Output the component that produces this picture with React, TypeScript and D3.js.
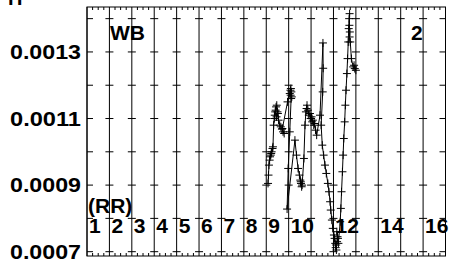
import React, { useEffect, useRef } from 'react';
import * as d3 from 'd3';

// bin position (RR class) and value of each sample
const xValues = [
  9.08, 9.10, 9.12, 9.15, 9.20, 9.17, 9.24, 9.28, 9.22, 9.30,
  9.33, 9.36, 9.40, 9.38, 9.44, 9.42, 9.47, 9.50, 9.46, 9.52, 9.55, 9.60, 9.65, 9.70, 9.75, 9.80, 9.72,
  9.95, 10.05, 10.08, 10.10, 10.12, 10.09, 10.14, 10.11,
  10.05, 9.98, 9.93,
  10.28, 10.35, 10.42, 10.48, 10.52, 10.55, 10.58, 10.54, 10.60,
  10.68, 10.73, 10.77, 10.82, 10.80, 10.86, 10.90, 10.95, 10.98, 11.02, 11.05, 11.08, 11.12, 11.15, 11.20, 11.25,
  11.40, 11.53, 11.54, 11.52, 11.45,
  11.50, 11.56, 11.62, 11.68, 11.75, 11.80, 11.85, 11.88, 11.93,
  11.97, 12.02, 12.05, 12.08, 12.10, 12.13, 12.12, 12.16, 12.18, 12.15, 12.20, 12.22,
  12.30, 12.33, 12.36, 12.40, 12.43, 12.46, 12.50, 12.53, 12.56, 12.60, 12.63, 12.66, 12.68, 12.70, 12.72,
  12.71, 12.73, 12.72, 12.75, 12.80, 12.88, 12.95, 13.00, 12.92,
];
const yValues = [
  0.000905, 0.000930, 0.000960, 0.000975, 0.000990, 0.000985, 0.001000, 0.001010, 0.000995, 0.001015,
  0.001080, 0.001100, 0.001120, 0.001110, 0.001135, 0.001125, 0.001140, 0.001120, 0.001105, 0.001115, 0.001095, 0.001080, 0.001075, 0.001068, 0.001060, 0.001055, 0.001070,
  0.001150, 0.001175, 0.001185, 0.001190, 0.001180, 0.001170, 0.001165, 0.001160,
  0.001060, 0.000950, 0.000828,
  0.001035, 0.000990, 0.000950, 0.000930, 0.000915, 0.000905, 0.000895, 0.000910, 0.000900,
  0.000980, 0.001080, 0.001120, 0.001140, 0.001130, 0.001125, 0.001110, 0.001115, 0.001100, 0.001105, 0.001090, 0.001095, 0.001080, 0.001085, 0.001065, 0.001050,
  0.001110, 0.001327, 0.001251, 0.001180, 0.001080,
  0.001020, 0.000990, 0.000960, 0.000935, 0.000905, 0.000880, 0.000850, 0.000825, 0.000795,
  0.000770, 0.000750, 0.000740, 0.000725, 0.000712, 0.000705, 0.000720, 0.000730, 0.000745, 0.000760, 0.000740, 0.000725,
  0.000790, 0.000830, 0.000880, 0.000940, 0.000990, 0.001040, 0.001090, 0.001140, 0.001185, 0.001235, 0.001280, 0.001330, 0.001370, 0.001400, 0.001415,
  0.001380, 0.001360, 0.001345, 0.001330, 0.001280, 0.001255, 0.001250, 0.001245, 0.001260,
];

const yTickLabels = [0.0007, 0.0009, 0.0011, 0.0013];
const yDashTicks = [0.0007, 0.0008, 0.0009, 0.0010, 0.0011, 0.0012, 0.0013, 0.0014];
const binLabels = [1, 2, 3, 4, 5, 6, 7, 8, 9, 10, 12, 14, 16];
const panelTitle = 'WB';
const panelNumber = '2';
const classTitle = '(RR)';

export default function App() {
  const svgRef = useRef<SVGSVGElement>(null);

  useEffect(() => {
    if (!svgRef.current) return;
    const width = 461, height = 265;
    const margin = { top: 7, right: 15.5, bottom: 9, left: 87 };

    const svg = d3.select(svgRef.current);
    svg.selectAll('*').remove();

    const x = d3.scaleLinear().domain([1, 17]).range([margin.left, width - margin.right]);
    const y = d3.scaleLinear().domain([0.000687, 0.001435]).range([height - margin.bottom, margin.top]);
    const font = 'Liberation Sans, Arial, Helvetica, sans-serif';

    svg.append('rect').attr('width', width).attr('height', height).attr('fill', '#fff');

    // cut-off title at the very top
    svg.append('text')
      .attr('x', 8).attr('y', 5)
      .attr('font-family', font).attr('font-weight', 'bold').attr('font-size', 20)
      .text('H');

    const majors = d3.range(1, 18);
    const minors = d3.range(1, 17.001, 0.25).filter(v => Math.abs(v - Math.round(v)) > 0.01);

    // vertical grid lines at each class
    svg.append('g').selectAll('line').data(majors).enter().append('line')
      .attr('x1', d => x(d)).attr('x2', d => x(d))
      .attr('y1', y.range()[1]).attr('y2', y.range()[0])
      .attr('stroke', '#000').attr('stroke-width', 1);

    // small horizontal dashes crossing each grid line
    const dash = svg.append('g');
    majors.forEach(m => {
      const x0 = m === 1 ? x(m) : (m === 17 ? x(m) - 6 : x(m) - 4);
      const x1 = m === 1 ? x(m) + 6 : (m === 17 ? x(m) : x(m) + 4);
      dash.selectAll(null).data(yDashTicks).enter().append('line')
        .attr('x1', x0).attr('x2', x1)
        .attr('y1', d => y(d)).attr('y2', d => y(d))
        .attr('stroke', '#000').attr('stroke-width', 1);
    });

    // minor ticks on top and bottom axes
    const tk = svg.append('g').attr('stroke', '#000').attr('stroke-width', 1);
    tk.selectAll('.tt').data(minors).enter().append('line')
      .attr('x1', d => x(d)).attr('x2', d => x(d))
      .attr('y1', y.range()[1]).attr('y2', y.range()[1] + 3);
    tk.selectAll('.tb').data(minors).enter().append('line')
      .attr('x1', d => x(d)).attr('x2', d => x(d))
      .attr('y1', y.range()[0]).attr('y2', y.range()[0] - 3);

    // frame
    svg.append('rect')
      .attr('x', x(1)).attr('y', y.range()[1])
      .attr('width', x(17) - x(1)).attr('height', y.range()[0] - y.range()[1])
      .attr('fill', 'none').attr('stroke', '#000').attr('stroke-width', 1);

    // y labels
    svg.append('g').selectAll('text').data(yTickLabels).enter().append('text')
      .attr('x', 10).attr('y', d => y(d) + 7)
      .attr('textLength', 71).attr('lengthAdjust', 'spacingAndGlyphs')
      .attr('font-family', font).attr('font-weight', 'bold').attr('font-size', 20)
      .text(d => d3.format('.4f')(d));

    // class numbers inside the plot
    svg.append('g').selectAll('text').data(binLabels).enter().append('text')
      .attr('x', d => x(d) + 2).attr('y', 233)
      .attr('font-family', font).attr('font-weight', 'bold').attr('font-size', 21)
      .text(d => String(d));

    svg.append('text').attr('x', 88).attr('y', 213)
      .attr('font-family', font).attr('font-weight', 'bold').attr('font-size', 21)
      .text(classTitle);
    svg.append('text').attr('x', 110).attr('y', 40)
      .attr('font-family', font).attr('font-weight', 'bold').attr('font-size', 21)
      .text(panelTitle);
    svg.append('text').attr('x', 411).attr('y', 40)
      .attr('font-family', font).attr('font-weight', 'bold').attr('font-size', 21)
      .text(panelNumber);

    // series: line with plus markers
    const pts = xValues.map((v, i) => [v, yValues[i]] as [number, number]);
    svg.append('path')
      .datum(pts)
      .attr('d', d3.line<[number, number]>().x(d => x(d[0])).y(d => y(d[1])))
      .attr('fill', 'none').attr('stroke', '#000').attr('stroke-width', 1);

    svg.append('g').selectAll('path').data(pts).enter().append('path')
      .attr('d', d => {
        const cx = x(d[0]), cy = y(d[1]);
        return `M${cx - 4},${cy}H${cx + 4}M${cx},${cy - 4}V${cy + 4}`;
      })
      .attr('stroke', '#000').attr('stroke-width', 1);
  }, []);

  return (
    <svg ref={svgRef} width={461} height={265}
      style={{ position: 'absolute', left: 0, top: 0, display: 'block' }} />
  );
}
